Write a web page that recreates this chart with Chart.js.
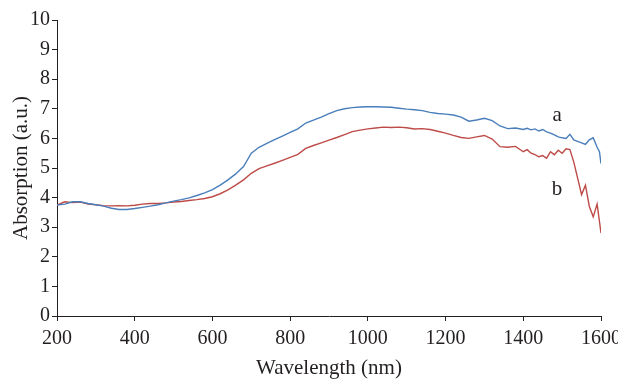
<!DOCTYPE html>
<html lang="en">
<head>
  <meta charset="UTF-8" />
  <title>Absorption spectra</title>
  <script src="https://cdn.jsdelivr.net/npm/chart.js"></script>
  <style>
    html, body { margin: 0; padding: 0; background: #ffffff; }
    .chart-box { width: 618px; height: 379px; position: relative; }
  </style>
</head>
<body>
  <div class="chart-box">
    <canvas id="absChart"></canvas>
  </div>

  <script>
    // wavelength grid (nm)
    const wavelengths = [
      200, 220, 240, 260, 280, 300, 320, 340, 360, 380,
      400, 420, 440, 460, 480, 500, 520, 540, 560, 580,
      600, 620, 640, 660, 680, 700, 720, 740, 760, 780,
      800, 820, 840, 860, 880, 900, 920, 940, 960, 980,
      1000, 1020, 1040, 1060, 1080, 1100, 1120, 1140, 1160, 1180,
      1200, 1220, 1240, 1260, 1280, 1300, 1320, 1340, 1360, 1380,
      1400, 1410, 1420, 1430, 1440, 1450, 1460, 1470, 1480, 1490,
      1500, 1510, 1520, 1530, 1540, 1550, 1560, 1570, 1580, 1590,
      1596, 1600
    ];

    // sample a
    const absorptionA = [
      3.75, 3.78, 3.86, 3.86, 3.80, 3.76, 3.71, 3.64, 3.60, 3.60,
      3.63, 3.67, 3.71, 3.76, 3.82, 3.88, 3.93, 3.99, 4.07, 4.16,
      4.27, 4.42, 4.60, 4.80, 5.05, 5.50, 5.70, 5.83, 5.96, 6.08,
      6.20, 6.32, 6.52, 6.62, 6.72, 6.84, 6.94, 7.00, 7.04, 7.06,
      7.07, 7.07, 7.06, 7.05, 7.02, 6.99, 6.97, 6.94, 6.88, 6.84,
      6.82, 6.79, 6.72, 6.58, 6.62, 6.68, 6.60, 6.42, 6.33, 6.35,
      6.30, 6.34, 6.29, 6.32, 6.25, 6.30, 6.22, 6.18, 6.12, 6.05,
      6.02, 6.00, 6.14, 5.95, 5.90, 5.85, 5.80, 5.95, 6.02, 5.70,
      5.55, 5.15
    ];

    // sample b
    const absorptionB = [
      3.75, 3.86, 3.83, 3.85, 3.78, 3.76, 3.73, 3.72, 3.73, 3.72,
      3.74, 3.78, 3.80, 3.80, 3.82, 3.85, 3.87, 3.90, 3.93, 3.97,
      4.03, 4.13, 4.26, 4.42, 4.60, 4.82, 4.98, 5.07, 5.16, 5.26,
      5.36, 5.46, 5.66, 5.76, 5.85, 5.94, 6.03, 6.13, 6.23, 6.28,
      6.32, 6.35, 6.38, 6.37, 6.38, 6.36, 6.32, 6.33, 6.30, 6.24,
      6.18, 6.10, 6.03, 6.00, 6.05, 6.10, 5.98, 5.72, 5.70, 5.73,
      5.55, 5.62, 5.50, 5.45, 5.38, 5.42, 5.33, 5.55, 5.45, 5.60,
      5.50, 5.65, 5.62, 5.20, 4.65, 4.10, 4.42, 3.70, 3.35, 3.78,
      3.20, 2.80
    ];

    const xTicks = [200, 400, 600, 800, 1000, 1200, 1400, 1600];
    const yTicks = [0, 1, 2, 3, 4, 5, 6, 7, 8, 9, 10];

    // curve labels, placed in data units
    const curveLabels = ['a', 'b'];
    const curveLabelX = [1487, 1487];
    const curveLabelY = [6.79, 4.26];

    const serif = "'Liberation Serif', 'DejaVu Serif', serif";
    const ink = '#231f20';

    function toPoints(xs, ys) {
      return xs.map((x, i) => ({ x: x, y: ys[i] }));
    }

    const curveText = {
      id: 'curveText',
      afterDatasetsDraw(chart) {
        const { ctx, scales } = chart;
        ctx.save();
        ctx.font = '21px ' + serif;
        ctx.fillStyle = ink;
        ctx.textAlign = 'center';
        ctx.textBaseline = 'middle';
        curveLabels.forEach((t, i) => {
          ctx.fillText(t, scales.x.getPixelForValue(curveLabelX[i]), scales.y.getPixelForValue(curveLabelY[i]));
        });
        ctx.restore();
      }
    };

    const ctx = document.getElementById('absChart').getContext('2d');
    new Chart(ctx, {
      type: 'line',
      data: {
        datasets: [
          {
            label: 'a',
            data: toPoints(wavelengths, absorptionA),
            borderColor: '#4a7ebb',
            borderWidth: 1.4,
            pointRadius: 0,
            tension: 0
          },
          {
            label: 'b',
            data: toPoints(wavelengths, absorptionB),
            borderColor: '#be4b48',
            borderWidth: 1.4,
            pointRadius: 0,
            tension: 0
          }
        ]
      },
      options: {
        responsive: true,
        maintainAspectRatio: false,
        animation: false,
        layout: { padding: { top: 20, right: 17, bottom: 0, left: 0 } },
        plugins: {
          legend: { display: false },
          tooltip: { enabled: false }
        },
        scales: {
          x: {
            type: 'linear',
            min: 200,
            max: 1600,
            afterBuildTicks: (axis) => { axis.ticks = xTicks.map(v => ({ value: v })); },
            afterFit: (axis) => { axis.height = 63; axis.paddingLeft = 0; axis.paddingRight = 0; },
            ticks: {
              font: { family: serif, size: 20 },
              color: ink,
              padding: 6,
              maxRotation: 0,
              callback: (v) => String(v)
            },
            grid: { drawOnChartArea: false, tickLength: 5, color: ink, lineWidth: 1 },
            border: { display: true, color: ink, width: 1 },
            title: {
              display: true,
              text: 'Wavelength (nm)',
              font: { family: serif, size: 21, lineHeight: 1 },
              color: ink,
              padding: { top: 0, bottom: 0 }
            }
          },
          y: {
            type: 'linear',
            min: 0,
            max: 10,
            afterBuildTicks: (axis) => { axis.ticks = yTicks.map(v => ({ value: v })); },
            afterFit: (axis) => { axis.width = 57; axis.paddingTop = 0; axis.paddingBottom = 0; },
            ticks: {
              font: { family: serif, size: 20 },
              color: ink,
              padding: 2,
              callback: (v) => String(v)
            },
            grid: { drawOnChartArea: false, tickLength: 5, color: ink, lineWidth: 1 },
            border: { display: true, color: ink, width: 1 },
            title: {
              display: true,
              text: 'Absorption (a.u.)',
              font: { family: serif, size: 21, lineHeight: 1 },
              color: ink,
              padding: { top: 11, bottom: 0 }
            }
          }
        }
      },
      plugins: [curveText]
    });
  </script>
</body>
</html>
